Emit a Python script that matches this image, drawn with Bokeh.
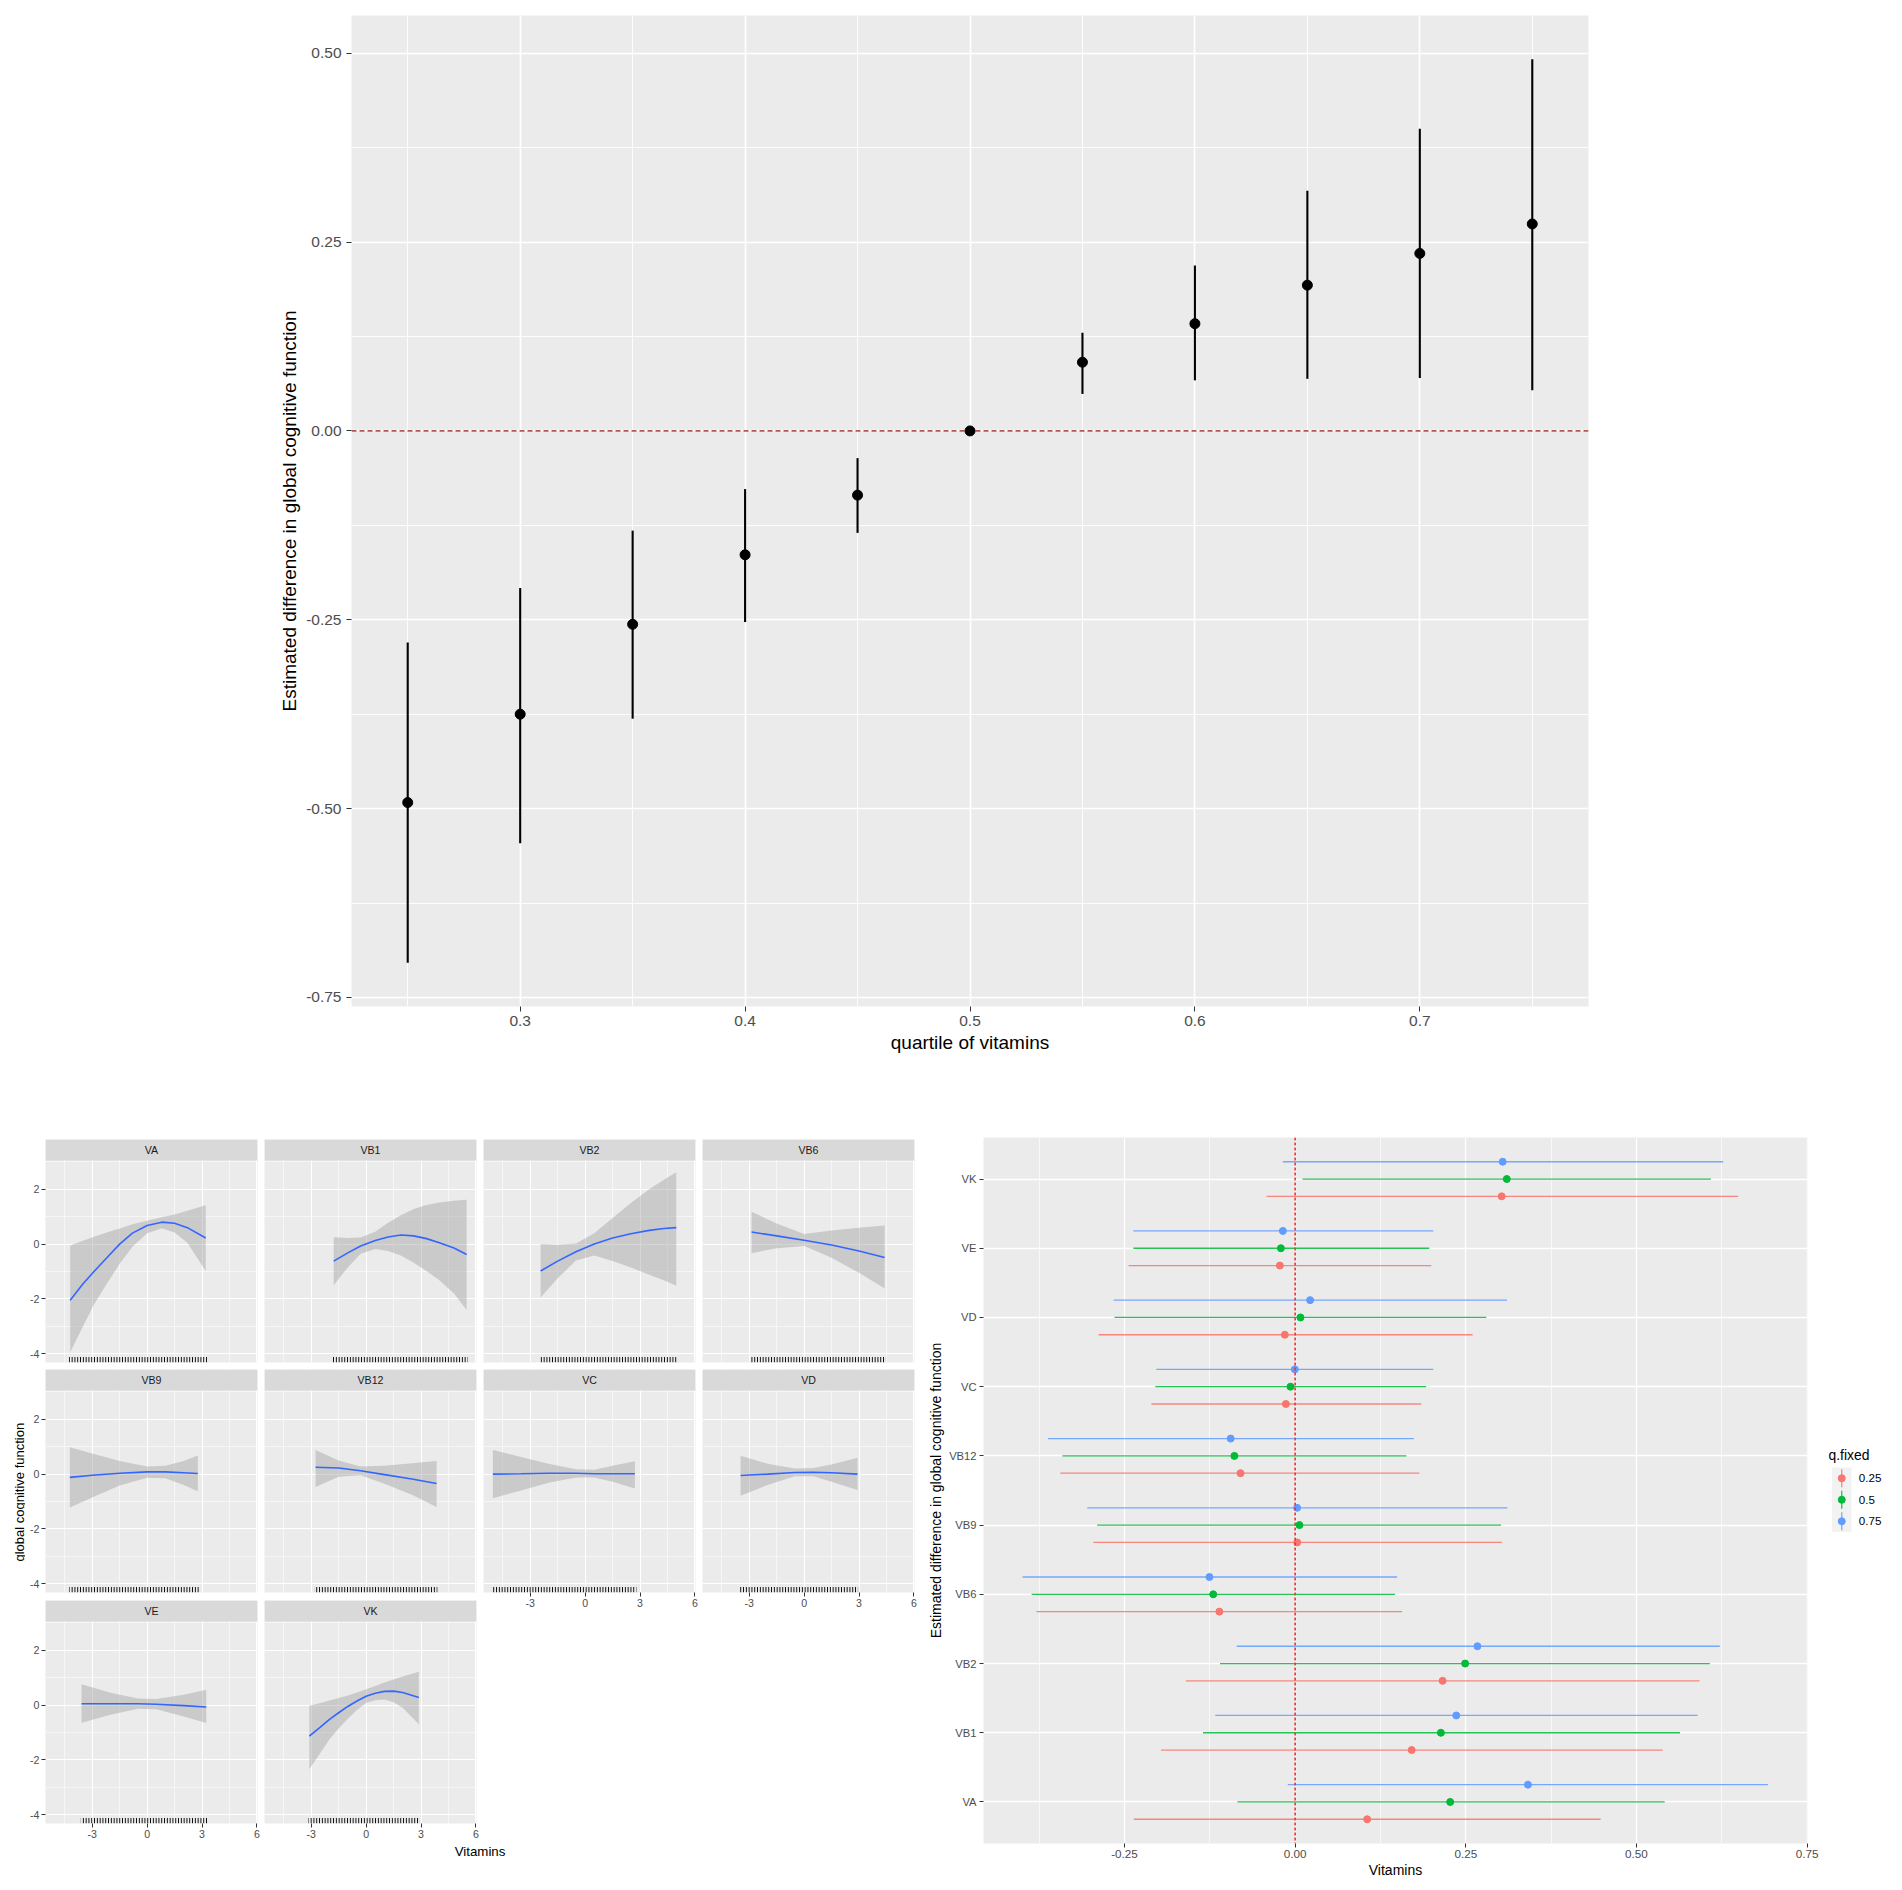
import math
from bokeh.plotting import figure
from bokeh.layouts import column, row
from bokeh.models import (Range1d, FactorRange, LinearAxis, CategoricalAxis, FixedTicker,
                          CategoricalTicker, Grid, Span, ColumnDataSource, Label,
                          BoxAnnotation, NumeralTickFormatter)
from bokeh.transform import dodge
from bokeh.embed import file_html
from bokeh.resources import INLINE

FONT = "Liberation Sans"
PANEL_BG = "#EBEBEB"
AXIS_TXT = "#4D4D4D"
TICK = "#333333"

# ---------------- top panel data ----------------
quantiles = [0.25, 0.30, 0.35, 0.40, 0.45, 0.50, 0.55, 0.60, 0.65, 0.70, 0.75]
est_top = [-0.492, -0.375, -0.256, -0.164, -0.085, 0.000, 0.091, 0.142, 0.193, 0.235, 0.274]
low_top = [-0.704, -0.546, -0.381, -0.253, -0.135, 0.000, 0.049, 0.067, 0.069, 0.070, 0.054]
high_top = [-0.280, -0.208, -0.132, -0.077, -0.036, 0.000, 0.130, 0.219, 0.318, 0.400, 0.492]
top_x_ticks = [0.3, 0.4, 0.5, 0.6, 0.7]
top_x_minor = [0.25, 0.35, 0.45, 0.55, 0.65, 0.75]
top_y_ticks = [-0.75, -0.50, -0.25, 0.0, 0.25, 0.50]
top_y_minor = [-0.625, -0.375, -0.125, 0.125, 0.375]

# ---------------- facet (smooth) data ----------------
va_x = [-4.2, -3.5, -2.9, -2.2, -1.5, -0.8, 0.0, 0.8, 1.5, 2.2, 3.2]
va_y = [-2.05, -1.45, -1.0, -0.5, 0.0, 0.4, 0.68, 0.8, 0.76, 0.6, 0.22]
va_lo = [-3.95, -3.0, -2.2, -1.45, -0.72, -0.1, 0.4, 0.58, 0.42, 0.05, -0.98]
va_hi = [-0.05, 0.12, 0.27, 0.42, 0.57, 0.72, 0.85, 0.98, 1.08, 1.22, 1.42]

vb1_x = [-1.77, -1.0, -0.3, 0.5, 1.2, 1.9, 2.6, 3.3, 4.0, 4.8, 5.49]
vb1_y = [-0.62, -0.32, -0.07, 0.13, 0.26, 0.33, 0.3, 0.2, 0.05, -0.14, -0.38]
vb1_lo = [-1.5, -0.85, -0.35, -0.18, -0.25, -0.42, -0.68, -0.98, -1.32, -1.8, -2.4]
vb1_hi = [0.25, 0.22, 0.24, 0.45, 0.78, 1.05, 1.28, 1.43, 1.52, 1.58, 1.62]

vb2_x = [-2.43, -1.5, -0.5, 0.5, 1.5, 2.5, 3.5, 4.3, 4.98]
vb2_y = [-0.98, -0.62, -0.28, 0.0, 0.22, 0.38, 0.5, 0.57, 0.6]
vb2_lo = [-1.95, -1.25, -0.6, -0.42, -0.62, -0.85, -1.12, -1.32, -1.52]
vb2_hi = [0.0, -0.02, 0.02, 0.4, 0.95, 1.5, 2.0, 2.35, 2.62]

vb6_x = [-2.87, -1.5, 0.0, 1.5, 3.0, 4.4]
vb6_y = [0.44, 0.3, 0.14, -0.03, -0.25, -0.49]
vb6_lo = [-0.33, -0.15, -0.07, -0.5, -1.05, -1.62]
vb6_hi = [1.18, 0.75, 0.37, 0.5, 0.6, 0.68]

vb9_x = [-4.22, -3.0, -1.5, 0.0, 1.0, 2.0, 2.77]
vb9_y = [-0.12, -0.04, 0.03, 0.08, 0.08, 0.05, 0.02]
vb9_lo = [-1.22, -0.85, -0.42, -0.13, -0.15, -0.4, -0.63]
vb9_hi = [0.98, 0.75, 0.48, 0.28, 0.3, 0.48, 0.68]

vb12_x = [-2.76, -1.5, -0.3, 1.0, 2.5, 3.85]
vb12_y = [0.25, 0.22, 0.12, -0.02, -0.18, -0.34]
vb12_lo = [-0.47, -0.1, -0.04, -0.35, -0.75, -1.2]
vb12_hi = [0.88, 0.5, 0.28, 0.3, 0.4, 0.48]

vc_x = [-5.04, -3.5, -2.0, -0.5, 0.5, 1.5, 2.72]
vc_y = [0.0, 0.01, 0.03, 0.03, 0.01, 0.01, 0.01]
vc_lo = [-0.88, -0.6, -0.32, -0.12, -0.12, -0.28, -0.53]
vc_hi = [0.88, 0.62, 0.38, 0.18, 0.16, 0.3, 0.47]

vd_x = [-3.47, -2.0, -0.5, 0.5, 1.5, 2.92]
vd_y = [-0.05, 0.0, 0.06, 0.07, 0.05, 0.0]
vd_lo = [-0.79, -0.4, -0.08, -0.08, -0.28, -0.58]
vd_hi = [0.67, 0.38, 0.2, 0.22, 0.35, 0.6]

ve_x = [-3.58, -2.0, -0.5, 0.5, 2.0, 3.23]
ve_y = [0.05, 0.05, 0.05, 0.03, -0.02, -0.07]
ve_lo = [-0.64, -0.35, -0.13, -0.15, -0.42, -0.65]
ve_hi = [0.76, 0.45, 0.24, 0.22, 0.38, 0.56]

vk_x = [-3.1, -2.5, -2.0, -1.5, -1.0, -0.5, 0.0, 0.5, 1.0, 1.5, 2.0, 2.88]
vk_y = [-1.13, -0.8, -0.52, -0.28, -0.05, 0.15, 0.32, 0.43, 0.5, 0.51, 0.46, 0.28]
vk_lo = [-2.34, -1.75, -1.25, -0.85, -0.5, -0.18, 0.08, 0.18, 0.2, 0.1, -0.1, -0.7]
vk_hi = [-0.02, 0.08, 0.17, 0.26, 0.35, 0.46, 0.58, 0.7, 0.82, 0.93, 1.04, 1.22]

# rug extents (observed vitamin values, min / max) per facet
rug_min = {"VA": -4.27, "VB1": -1.82, "VB2": -2.48, "VB6": -2.92, "VB9": -4.25,
           "VB12": -2.8, "VC": -5.09, "VD": -3.52, "VE": -3.62, "VK": -3.15}
rug_max = {"VA": 3.27, "VB1": 5.55, "VB2": 5.02, "VB6": 4.45, "VB9": 2.83,
           "VB12": 3.9, "VC": 2.8, "VD": 2.95, "VE": 3.3, "VK": 2.92}

facet_x_ticks = [-3, 0, 3, 6]
facet_x_minor = [-4.5, -1.5, 1.5, 4.5]
facet_y_ticks = [-4, -2, 0, 2]
facet_y_minor = [-3, -1, 1, 3]

# ---------------- forest data ----------------
vitamins = ["VA", "VB1", "VB2", "VB6", "VB9", "VB12", "VC", "VD", "VE", "VK"]
q_levels = ["0.25", "0.5", "0.75"]
q_colors = ["#F8766D", "#00BA38", "#619CFF"]
est_q25 = [0.1055, 0.1707, 0.216, -0.111, 0.003, -0.080, -0.0136, -0.0151, -0.0224, 0.3025]
lo_q25 = [-0.2364, -0.1965, -0.160, -0.379, -0.2957, -0.344, -0.2106, -0.288, -0.244, -0.042]
hi_q25 = [0.4475, 0.5384, 0.5924, 0.1566, 0.303, 0.182, 0.1848, 0.260, 0.1994, 0.649]
est_q50 = [0.2271, 0.2135, 0.249, -0.120, 0.0063, -0.089, -0.0068, 0.0078, -0.0209, 0.310]
lo_q50 = [-0.0846, -0.135, -0.110, -0.386, -0.290, -0.341, -0.2048, -0.2646, -0.237, 0.0107]
hi_q50 = [0.5413, 0.5637, 0.6075, 0.1464, 0.3016, 0.163, 0.192, 0.280, 0.1965, 0.609]
est_q75 = [0.341, 0.236, 0.267, -0.1255, 0.0029, -0.0944, -0.0005, 0.0219, -0.018, 0.304]
lo_q75 = [-0.0107, -0.117, -0.0856, -0.3993, -0.3045, -0.362, -0.2033, -0.266, -0.237, -0.018]
hi_q75 = [0.6926, 0.5895, 0.622, 0.1493, 0.311, 0.174, 0.2023, 0.3103, 0.2023, 0.627]
forest_x_ticks = [-0.25, 0.0, 0.25, 0.50, 0.75]
forest_x_minor = [-0.375, -0.125, 0.125, 0.375, 0.625]


def add_grid(p, dim, ticker, wmaj, wmin):
    g = Grid(dimension=dim, ticker=ticker, grid_line_color="white", grid_line_width=wmaj,
             minor_grid_line_color="white", minor_grid_line_width=wmin)
    p.add_layout(g)


def style_axis(ax, tick_px, label_px, tick_out, standoff, title_standoff=0):
    ax.axis_line_color = None
    ax.major_tick_line_color = TICK
    ax.major_tick_out = tick_out
    ax.major_tick_in = 0
    ax.minor_tick_line_color = None
    ax.minor_tick_out = 0
    ax.minor_tick_in = 0
    ax.major_label_text_font = FONT
    ax.major_label_text_font_size = tick_px
    ax.major_label_text_color = AXIS_TXT
    ax.major_label_standoff = standoff
    ax.axis_label_text_font = FONT
    ax.axis_label_text_font_size = label_px
    ax.axis_label_text_font_style = "normal"
    ax.axis_label_text_color = "black"
    ax.axis_label_standoff = title_standoff


def base_fig(width, height, xr, yr, mb, bg=PANEL_BG):
    return figure(width=width, height=height, x_range=xr, y_range=yr,
                  x_axis_type=None, y_axis_type=None, output_backend="svg",
                  toolbar_location=None, background_fill_color=bg,
                  border_fill_color="white", outline_line_color=None,
                  min_border_left=mb[0], min_border_right=mb[1],
                  min_border_top=mb[2], min_border_bottom=mb[3])

# ================= TOP FIGURE =================
top = base_fig(351 + 1237 + 20, 1137, Range1d(0.225, 0.775), Range1d(-0.762, 0.550), (351, 20, 15, 131))
add_grid(top, 0, FixedTicker(ticks=top_x_ticks, minor_ticks=top_x_minor), 1.7, 0.9)
add_grid(top, 1, FixedTicker(ticks=top_y_ticks, minor_ticks=top_y_minor), 1.7, 0.9)
zero_top = Span(location=0, dimension="width", line_color="#B35858", line_dash="5 3",
                line_width=1.7, level="underlay")
top.add_layout(zero_top)
xa = LinearAxis(ticker=FixedTicker(ticks=top_x_ticks), formatter=NumeralTickFormatter(format="0.0"),
                axis_label="quartile of vitamins")
style_axis(xa, "15.5px", "19px", 5, 4, 3)
top.add_layout(xa, "below")
ya = LinearAxis(ticker=FixedTicker(ticks=top_y_ticks), formatter=NumeralTickFormatter(format="0.00"),
                axis_label="Estimated difference in global cognitive function")
style_axis(ya, "15.5px", "19px", 5, 5, 3)
top.add_layout(ya, "left")
src_top = ColumnDataSource(dict(q=quantiles, est=est_top, lo=low_top, hi=high_top))
top.segment(x0="q", y0="lo", x1="q", y1="hi", source=src_top, line_color="black", line_width=2.1)
top.scatter(x="q", y="est", source=src_top, size=10, fill_color="black", line_color="black")

# ================= FACETS =================
FX0, FX1 = -5.55, 6.03
FY0, FY1 = -4.32, 3.05
STRIP_H, PANEL_H, PANEL_W = 21, 202, 212
PPU_Y = PANEL_H / (FY1 - FY0)
FYS = FY1 + STRIP_H / PPU_Y
RUG_LEN = 5.5 / PPU_Y
YT_W = 25          # width of the strip holding the shared y title
COL1_LEFT = 45 - YT_W


def facet(name, xs, ys, lo, hi, mb, left_axis=False, bottom_axis=False):
    w = mb[0] + PANEL_W + mb[1]
    h = mb[2] + STRIP_H + PANEL_H + mb[3]
    p = base_fig(w, h, Range1d(FX0, FX1), Range1d(FY0, FYS), mb)
    add_grid(p, 0, FixedTicker(ticks=facet_x_ticks, minor_ticks=facet_x_minor), 1.1, 0.55)
    add_grid(p, 1, FixedTicker(ticks=facet_y_ticks, minor_ticks=facet_y_minor), 1.1, 0.55)
    src = ColumnDataSource(dict(x=xs, y=ys, lo=lo, hi=hi))
    p.varea(x="x", y1="lo", y2="hi", source=src, fill_color="#999999", fill_alpha=0.4)
    p.line(x="x", y="y", source=src, line_color="#3366FF", line_width=1.6)
    rsrc = ColumnDataSource(dict(l=[rug_min[name]], r=[rug_max[name]], b=[FY0], t=[FY0 + RUG_LEN]))
    p.quad(left="l", right="r", bottom="b", top="t", source=rsrc, fill_alpha=0, line_color=None,
           hatch_pattern="vertical_line", hatch_color="#000000", hatch_weight=1.0, hatch_scale=2.8)
    p.add_layout(BoxAnnotation(bottom=FY1, fill_color="#D9D9D9", fill_alpha=1.0,
                               line_color=None, line_alpha=0))
    p.add_layout(Label(x=(FX0 + FX1) / 2, y=(FY1 + FYS) / 2, text=name, text_align="center",
                       text_baseline="middle", text_font=FONT, text_font_size="10.6px",
                       text_color="#1A1A1A"))
    if left_axis:
        ax = LinearAxis(ticker=FixedTicker(ticks=facet_y_ticks), formatter=NumeralTickFormatter(format="0"))
        style_axis(ax, "10.6px", "13px", 4, 2)
        p.add_layout(ax, "left")
    if bottom_axis:
        ax = LinearAxis(ticker=FixedTicker(ticks=facet_x_ticks), formatter=NumeralTickFormatter(format="0"))
        style_axis(ax, "10.6px", "13px", 4, 2)
        p.add_layout(ax, "below")
    return p


f_va = facet("VA", va_x, va_y, va_lo, va_hi, (COL1_LEFT, 7, 2, 7), left_axis=True)
f_vb9 = facet("VB9", vb9_x, vb9_y, vb9_lo, vb9_hi, (COL1_LEFT, 7, 0, 8), left_axis=True)
f_ve = facet("VE", ve_x, ve_y, ve_lo, ve_hi, (COL1_LEFT, 7, 0, 20), left_axis=True, bottom_axis=True)
f_vb1 = facet("VB1", vb1_x, vb1_y, vb1_lo, vb1_hi, (0, 7, 2, 7))
f_vb12 = facet("VB12", vb12_x, vb12_y, vb12_lo, vb12_hi, (0, 7, 0, 8))
f_vk = facet("VK", vk_x, vk_y, vk_lo, vk_hi, (0, 7, 0, 20), bottom_axis=True)
f_vb2 = facet("VB2", vb2_x, vb2_y, vb2_lo, vb2_hi, (0, 7, 2, 7))
f_vc = facet("VC", vc_x, vc_y, vc_lo, vc_hi, (0, 7, 0, 30), bottom_axis=True)
f_vb6 = facet("VB6", vb6_x, vb6_y, vb6_lo, vb6_hi, (0, 4, 2, 7))
f_vd = facet("VD", vd_x, vd_y, vd_lo, vd_hi, (0, 4, 0, 30), bottom_axis=True)

COLS_H = 232 + 231 + 243
ytitle = base_fig(YT_W, COLS_H, Range1d(0, YT_W), Range1d(COLS_H, 0), (0, 0, 0, 0), bg="white")
ytitle.add_layout(Label(x=18.5, y=1491.7 - 1137, text="global cognitive function", angle=math.pi / 2,
                        text_align="center", text_baseline="middle", text_font=FONT,
                        text_font_size="13px", text_color="black"))

BLOCK_W = YT_W + (COL1_LEFT + 219) + 219 + 219 + 216
vit_title = base_fig(BLOCK_W, 20, Range1d(0, BLOCK_W), Range1d(0, 20), (0, 0, 0, 0), bg="white")
vit_title.add_layout(Label(x=479.5, y=12.4, text="Vitamins", text_align="center",
                           text_baseline="middle", text_font=FONT, text_font_size="13.3px",
                           text_color="black"))

facet_block = column(row(ytitle, column(f_va, f_vb9, f_ve), column(f_vb1, f_vb12, f_vk),
                         column(f_vb2, f_vc), column(f_vb6, f_vd)), vit_title)

# ================= FOREST =================
fy = FactorRange(factors=vitamins, range_padding=0.1, range_padding_units="absolute")
FOREST_H, FOREST_BOTTOM = 744, 38
forest = base_fig(65 + 824 + 18, FOREST_H, Range1d(-0.4565, 0.7505), fy, (65, 18, 0, FOREST_BOTTOM))
add_grid(forest, 0, FixedTicker(ticks=forest_x_ticks, minor_ticks=forest_x_minor), 1.3, 0.65)
add_grid(forest, 1, CategoricalTicker(), 1.3, 0.65)
fx_ax = LinearAxis(ticker=FixedTicker(ticks=forest_x_ticks), formatter=NumeralTickFormatter(format="0.00"),
                   axis_label="Vitamins")
style_axis(fx_ax, "11.7px", "14px", 4, 2, 1)
forest.add_layout(fx_ax, "below")
fy_ax = CategoricalAxis(ticker=CategoricalTicker(),
                        axis_label="Estimated difference in global cognitive function")
style_axis(fy_ax, "11.2px", "14px", 4, 3, 2)
forest.add_layout(fy_ax, "left")

series = [(est_q25, lo_q25, hi_q25, -0.25), (est_q50, lo_q50, hi_q50, 0.0), (est_q75, lo_q75, hi_q75, 0.25)]
for (e, lo, hi, off), col in zip(series, q_colors):
    s = ColumnDataSource(dict(vit=vitamins, est=e, lo=lo, hi=hi))
    yy = dodge("vit", off, range=fy)
    forest.segment(x0="lo", y0=yy, x1="hi", y1=yy, source=s, line_color=col, line_width=1.3,
                   line_alpha=0.85)
    forest.scatter(x="est", y=yy, source=s, size=7, fill_color=col, line_color=col)
forest.add_layout(Span(location=0, dimension="height", line_color="#EE3333", line_dash="3 2",
                       line_width=1.6))

# ================= LEGEND (ggplot style key column) =================
LEG_FRAME_H = FOREST_H - FOREST_BOTTOM
leg = base_fig(69, FOREST_H, Range1d(0, 69), Range1d(LEG_FRAME_H, 0), (0, 0, 0, FOREST_BOTTOM), bg="white")
KEY_X0, KEY_X1, KEY_TOP, KEY_H = 6.5, 26.0, 330.0, 21.5
leg.add_layout(Label(x=3, y=317, text="q.fixed", text_align="left", text_baseline="middle",
                     text_font=FONT, text_font_size="13.9px", text_color="black"))
leg.quad(left=[KEY_X0], right=[KEY_X1], top=[KEY_TOP], bottom=[KEY_TOP + KEY_H * len(q_levels)],
         fill_color="#F2F2F2", line_color=None)
kx = (KEY_X0 + KEY_X1) / 2
centers = [KEY_TOP + KEY_H * (i + 0.5) for i in range(len(q_levels))]
lsrc = ColumnDataSource(dict(x=[kx] * 3, y=centers, y0=[c - 9 for c in centers],
                             y1=[c + 9 for c in centers], color=q_colors))
leg.segment(x0="x", y0="y0", x1="x", y1="y1", source=lsrc, line_color="color", line_width=1.3,
            line_alpha=0.85)
leg.scatter(x="x", y="y", source=lsrc, size=7, fill_color="color", line_color="color")
for lab, c in zip(q_levels, centers):
    leg.add_layout(Label(x=33.3, y=c, text=lab, text_align="left", text_baseline="middle",
                         text_font=FONT, text_font_size="11.6px", text_color="black"))

layout = column(top, row(facet_block, forest, leg))
open("out.html", "w").write(file_html(layout, INLINE))
